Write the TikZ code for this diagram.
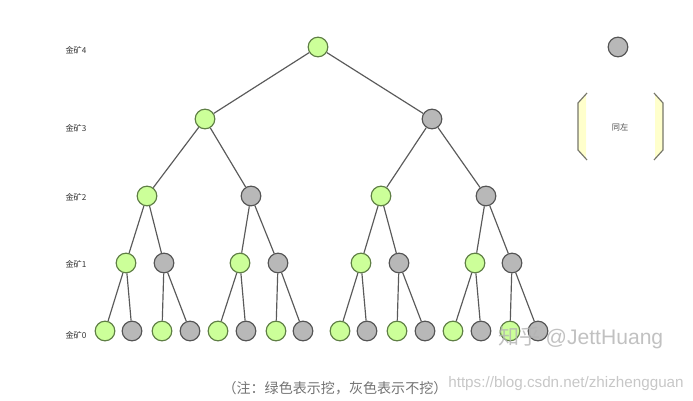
\documentclass[tikz,border=0pt]{standalone}
\usepackage{fontspec}
\newfontfamily\cjk{Noto Sans CJK SC}
\newfontfamily\wmfont{Liberation Sans}
\usepackage{tikz}
\usetikzlibrary{positioning}

\definecolor{digfill}{HTML}{CCFF99}
\definecolor{digline}{HTML}{5F7F45}
\definecolor{skipfill}{HTML}{B8B8B8}
\definecolor{skipline}{HTML}{555555}
\definecolor{edgecol}{HTML}{5A5A5A}
\definecolor{legfill}{HTML}{FFFFCC}
\definecolor{legline}{HTML}{77776A}

\begin{document}
\begin{tikzpicture}[
    x=0.03cm, y=-0.03cm,
    dig/.style={circle, draw=digline, fill=digfill, line width=1pt, minimum size=0.59cm, inner sep=0pt},
    skip/.style={circle, draw=skipline, fill=skipfill, line width=1pt, minimum size=0.59cm, inner sep=0pt},
    edge/.style={draw=edgecol, line width=1pt},
    level/.style={font=\cjk\fontsize{7}{8}\selectfont, text=black!80},
    note/.style={font=\cjk\fontsize{12}{14}\selectfont, text=black!55}
]
    \useasboundingbox (0,0) rectangle (693,401);

    % Level labels
    \node[level] (l4) at (76,50) {金矿4};
    \node[level] (l3) at (76,128) {金矿3};
    \node[level] (l2) at (76,197) {金矿2};
    \node[level] (l1) at (76,264) {金矿1};
    \node[level] (l0) at (76,335) {金矿0};

    % Tree nodes
    \node[dig] (r) at (318,47) {};
    \node[dig] (a) at (205,119) {};
    \node[skip] (b) at (432,119) {};
    \node[dig] (aa) at (147,196) {};
    \node[skip] (ab) at (251,196) {};
    \node[dig] (ba) at (381,196) {};
    \node[skip] (bb) at (486,196) {};
    \node[dig] (aaa) at (126,263) {};
    \node[skip] (aab) at (164,263) {};
    \node[dig] (aba) at (240,263) {};
    \node[skip] (abb) at (278,263) {};
    \node[dig] (baa) at (361,263) {};
    \node[skip] (bab) at (399,263) {};
    \node[dig] (bba) at (475,263) {};
    \node[skip] (bbb) at (512,263) {};

    % Leaves
    \node[dig] (aaaa) at (105,331) {};
    \node[skip] (aaab) at (132,331) {};
    \node[dig] (aaba) at (162,331) {};
    \node[skip] (aabb) at (190,331) {};
    \node[dig] (abaa) at (218,331) {};
    \node[skip] (abab) at (246,331) {};
    \node[dig] (abba) at (276,331) {};
    \node[skip] (abbb) at (303,331) {};
    \node[dig] (baaa) at (340,331) {};
    \node[skip] (baab) at (367,331) {};
    \node[dig] (baba) at (397,331) {};
    \node[skip] (babb) at (425,331) {};
    \node[dig] (bbaa) at (453,331) {};
    \node[skip] (bbab) at (481,331) {};
    \node[dig] (bbba) at (510,331) {};
    \node[skip] (bbbb) at (538,331) {};

    % Edges
    \draw[edge] (r) -- (a);
    \draw[edge] (r) -- (b);
    \draw[edge] (a) -- (aa);
    \draw[edge] (a) -- (ab);
    \draw[edge] (b) -- (ba);
    \draw[edge] (b) -- (bb);
    \draw[edge] (aa) -- (aaa);
    \draw[edge] (aa) -- (aab);
    \draw[edge] (ab) -- (aba);
    \draw[edge] (ab) -- (abb);
    \draw[edge] (ba) -- (baa);
    \draw[edge] (ba) -- (bab);
    \draw[edge] (bb) -- (bba);
    \draw[edge] (bb) -- (bbb);
    \draw[edge] (aaa) -- (aaaa);
    \draw[edge] (aaa) -- (aaab);
    \draw[edge] (aab) -- (aaba);
    \draw[edge] (aab) -- (aabb);
    \draw[edge] (aba) -- (abaa);
    \draw[edge] (aba) -- (abab);
    \draw[edge] (abb) -- (abba);
    \draw[edge] (abb) -- (abbb);
    \draw[edge] (baa) -- (baaa);
    \draw[edge] (baa) -- (baab);
    \draw[edge] (bab) -- (baba);
    \draw[edge] (bab) -- (babb);
    \draw[edge] (bba) -- (bbaa);
    \draw[edge] (bba) -- (bbab);
    \draw[edge] (bbb) -- (bbba);
    \draw[edge] (bbb) -- (bbbb);

    % Legend
    \node[skip] (leg) at (618,47) {};
    \fill[legfill] (586,95) -- (578,103) -- (578,150) -- (586,158) -- cycle;
    \fill[legfill] (655,95) -- (663,103) -- (663,150) -- (655,158) -- cycle;
    \draw[legline, line width=1pt] (587,93) -- (578,103) -- (578,150) -- (587,160);
    \draw[legline, line width=1pt] (654,93) -- (663,103) -- (663,150) -- (654,160);
    \node[level, text=black!70] (same) at (620,127) {同左};

    % Caption and watermarks
    \node[note] (cap) at (335,388) {（注：绿色表示挖，灰色表示不挖）};
    \node[font=\cjk\fontsize{18}{20}\selectfont, text=black!30, opacity=0.8] (wm1) at (581,338) {知乎 {\wmfont @JettHuang}};
    \node[font=\wmfont\fontsize{13}{15}\selectfont, text=black!22] (wm2) at (566,384) {https://blog.csdn.net/zhizhengguan};
\end{tikzpicture}
\end{document}
